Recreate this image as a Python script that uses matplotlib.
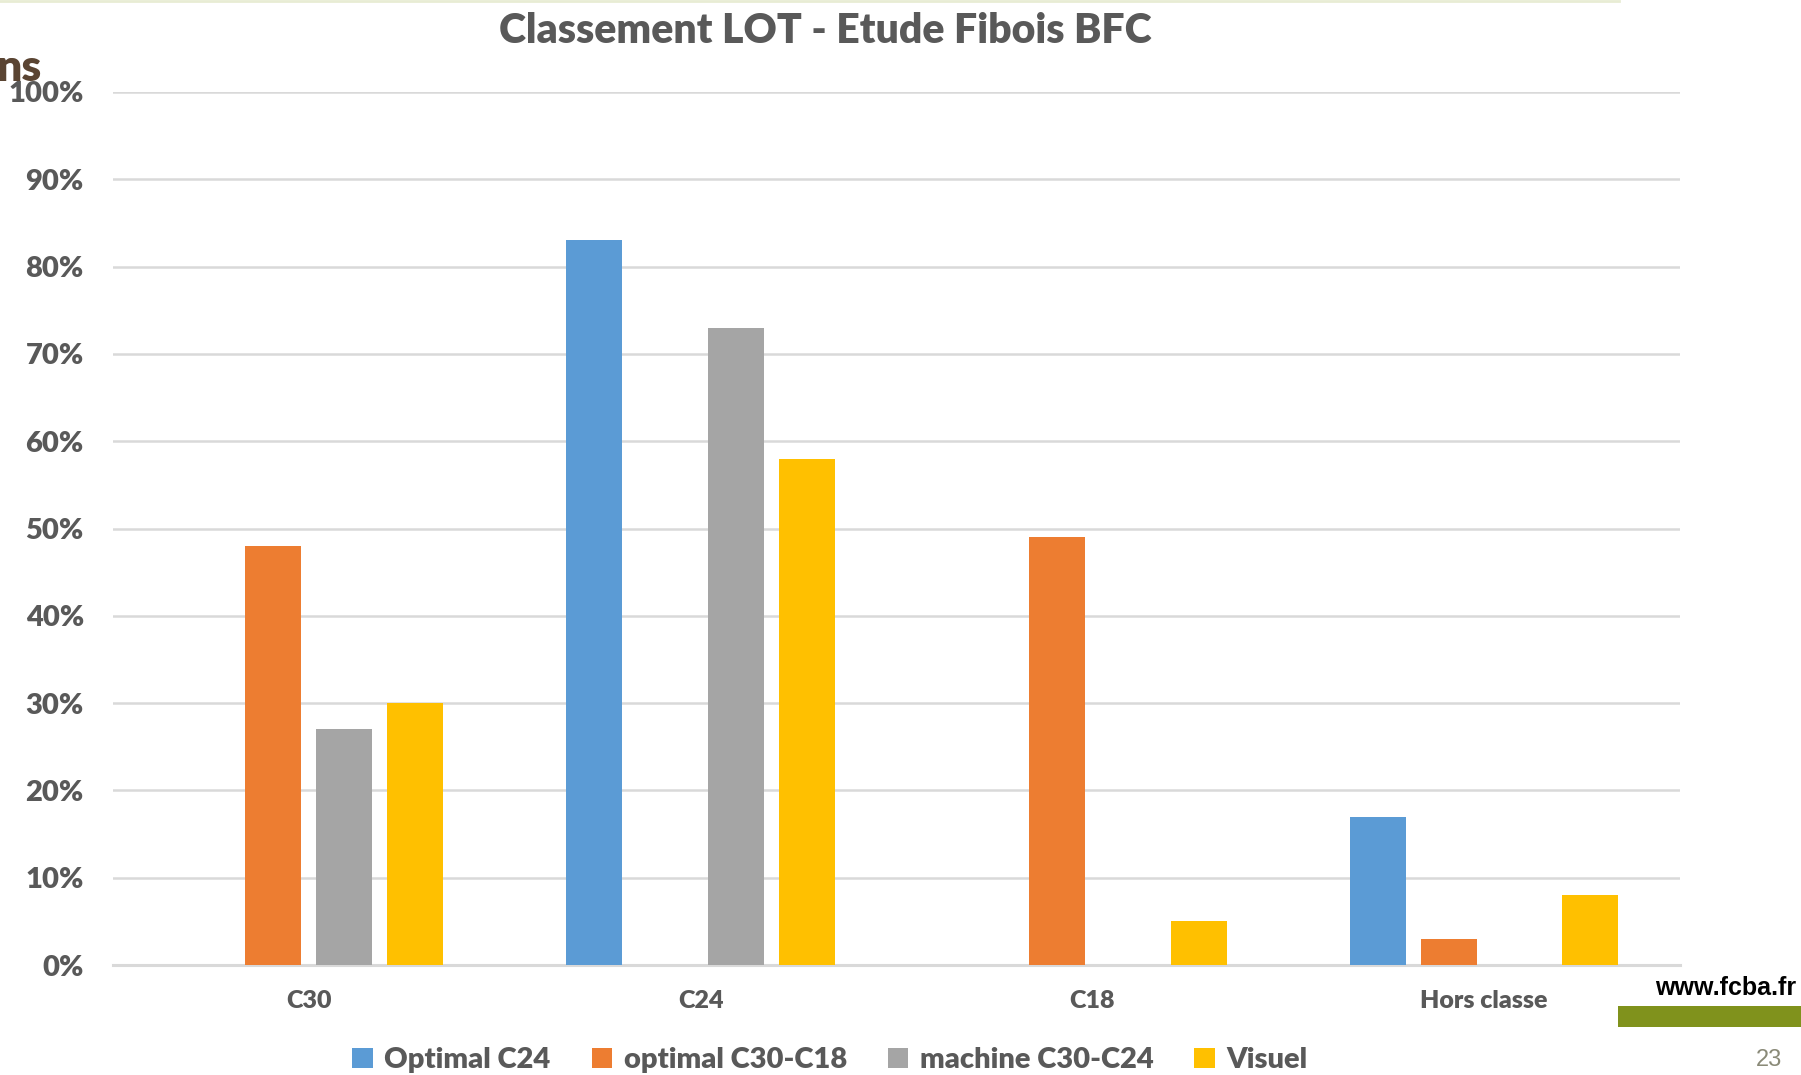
import matplotlib
matplotlib.use("Agg")
import matplotlib.pyplot as plt
import numpy as np
from matplotlib.patches import Patch, Rectangle
from matplotlib.lines import Line2D

categories = ["C30", "C24", "C18", "Hors classe"]
series_names = ["Optimal C24", "optimal C30-C18", "machine C30-C24", "Visuel"]
optimal_c24 = [0, 83, 0, 17]
optimal_c30_c18 = [48, 0, 49, 3]
machine_c30_c24 = [27, 73, 0, 0]
visuel = [30, 58, 5, 8]
yticks = [0, 10, 20, 30, 40, 50, 60, 70, 80, 90, 100]

colors = ["#5b9bd5", "#ed7d31", "#a5a5a5", "#ffc000"]
series = [optimal_c24, optimal_c30_c18, machine_c30_c24, visuel]

W, H = 1801, 1075
fig = plt.figure(figsize=(W / 100, H / 100), dpi=100)
plt.rcParams['font.family'] = ['Lato', 'DejaVu Sans']

left, right = 113 / W, 1680 / W
bottom, top = 1 - 965 / H, 1 - 92 / H
ax = fig.add_axes([left, bottom, right - left, top - bottom])

x = np.arange(len(categories))
bw = 0.143
step = 0.181
for i, (vals, c) in enumerate(zip(series, colors)):
    ax.bar(x + (i - 1.5) * step, vals, width=bw, color=c, zorder=3, label=series_names[i])

ax.set_xlim(-0.5, len(categories) - 0.5)
ax.set_ylim(0, 100)
ax.set_yticks(yticks)
ax.set_yticklabels([f"{v}%" for v in yticks])
ax.set_xticks(x)
ax.set_xticklabels(categories)
ax.grid(axis='y', color='#d9d9d9', linewidth=1.8, zorder=0)
for s in ["top", "right", "left"]:
    ax.spines[s].set_visible(False)
ax.spines["bottom"].set_color("#d9d9d9")
ax.spines["bottom"].set_linewidth(2.2)
ax.tick_params(axis='both', length=0)
ax.tick_params(axis='y', labelsize=21, labelcolor='#595959', pad=21)
ax.tick_params(axis='x', labelsize=18, labelcolor='#595959', pad=18)
for lab in ax.get_yticklabels() + ax.get_xticklabels():
    lab.set_fontweight('heavy')

fig.text(825 / W, 1 - 31 / H, "Classement LOT - Etude Fibois BFC", ha='center', va='center',
         fontsize=29.5, fontweight='heavy', color='#595959')

handles = [Patch(facecolor=c, edgecolor='none') for c in colors]
leg = fig.legend(handles, series_names, loc='center', bbox_to_anchor=(830 / W, 1 - 1060 / H),
                 ncol=4, frameon=False, handlelength=0.7, handleheight=0.7,
                 handletextpad=0.4, columnspacing=1.4,
                 prop={'weight': 'heavy', 'size': 21})
for t in leg.get_texts():
    t.set_color('#595959')

# slide decorations
fig.text(-3 / W, 1 - 68 / H, "ns", ha='left', va='center', fontsize=32, fontweight='heavy',
         color='#5a4432')
fig.add_artist(Line2D([0, 1619 / W], [1 - 1 / H, 1 - 1 / H], color='#e8ecd4', linewidth=2))
fig.text(1796 / W, 1 - 988 / H, "www.fcba.fr", ha='right', va='center', fontsize=18,
         fontweight='bold', color='black', family=['Liberation Sans', 'DejaVu Sans'])
fig.add_artist(Rectangle((1618 / W, 1 - 1027 / H), (W - 1618) / W, 21 / H,
                         facecolor='#80921c', edgecolor='none', transform=fig.transFigure))
fig.text(1769 / W, 1 - 1060 / H, "23", ha='center', va='center', fontsize=17,
         color='#8a8a78', family=['Liberation Sans', 'DejaVu Sans'])

fig.savefig("out.png", dpi=100)
